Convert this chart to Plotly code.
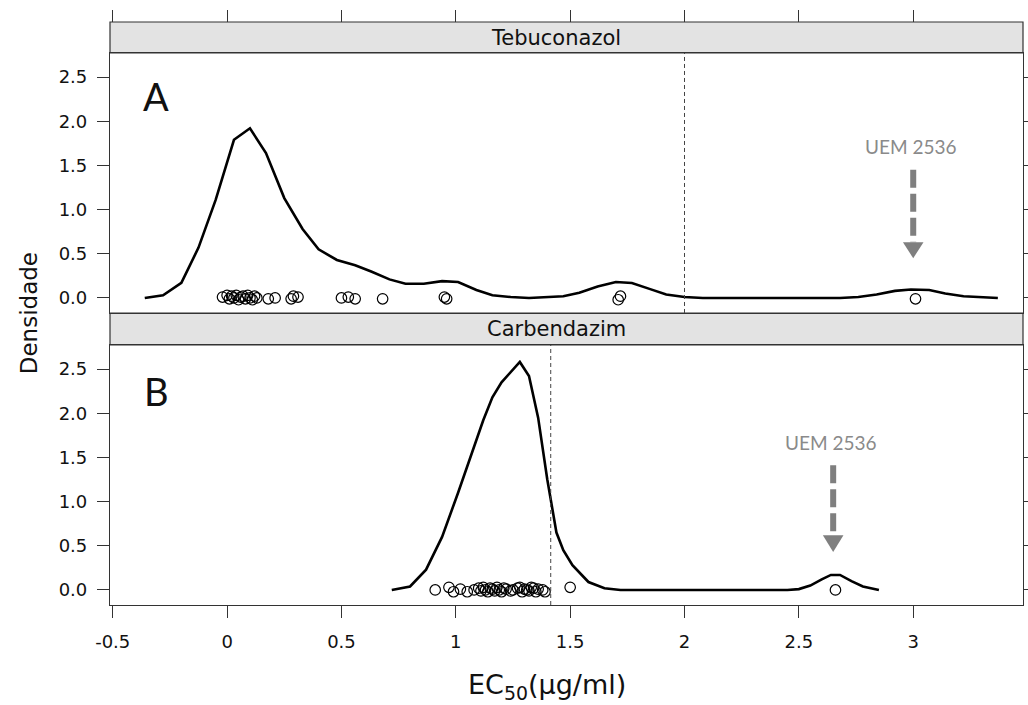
import plotly.graph_objects as go

# ---------------- data ----------------
teb_curve_x = [-0.36, -0.28, -0.20, -0.125, -0.05, 0.03, 0.10, 0.17, 0.25, 0.33, 0.40, 0.48,
               0.56, 0.63, 0.71, 0.78, 0.86, 0.94, 1.01, 1.09, 1.16, 1.24, 1.32, 1.39, 1.47,
               1.54, 1.62, 1.70, 1.77, 1.85, 1.92, 2.00, 2.08, 2.30, 2.50, 2.68, 2.76, 2.84,
               2.92, 2.99, 3.07, 3.14, 3.22, 3.30, 3.37]
teb_curve_y = [0.00, 0.03, 0.17, 0.57, 1.11, 1.79, 1.92, 1.64, 1.13, 0.78, 0.55, 0.43,
               0.37, 0.30, 0.21, 0.16, 0.16, 0.19, 0.18, 0.09, 0.03, 0.01, 0.00, 0.01, 0.02,
               0.06, 0.13, 0.18, 0.17, 0.10, 0.04, 0.01, 0.00, 0.00, 0.00, 0.00, 0.01, 0.04,
               0.08, 0.095, 0.09, 0.05, 0.02, 0.005, 0.00]

teb_pts_x = [-0.02, 0.00, 0.01, 0.02, 0.03, 0.04, 0.05, 0.06, 0.07, 0.08, 0.09, 0.10, 0.11,
             0.12, 0.13, 0.18, 0.21, 0.28, 0.29, 0.31, 0.50, 0.53, 0.56, 0.68, 0.95, 0.96,
             1.71, 1.72, 3.01]
teb_pts_y = [0.01, 0.03, -0.01, 0.02, 0.00, 0.03, -0.02, 0.01, 0.02, -0.01, 0.03, 0.00, -0.02,
             0.02, 0.00, -0.01, 0.00, -0.01, 0.02, 0.01, 0.00, 0.01, -0.01, -0.01, 0.01, -0.01,
             -0.02, 0.02, -0.01]

car_curve_x = [0.72, 0.80, 0.87, 0.94, 1.01, 1.07, 1.12, 1.16, 1.20, 1.28, 1.32, 1.36, 1.40,
               1.44, 1.47, 1.51, 1.58, 1.65, 1.72, 2.00, 2.45, 2.50, 2.55, 2.60, 2.64, 2.68,
               2.73, 2.78, 2.85]
car_curve_y = [0.00, 0.04, 0.23, 0.60, 1.10, 1.55, 1.92, 2.18, 2.35, 2.58, 2.42, 1.95, 1.25,
               0.65, 0.45, 0.28, 0.09, 0.02, 0.00, 0.00, 0.00, 0.01, 0.05, 0.12, 0.17, 0.17,
               0.10, 0.04, 0.00]

car_pts_x = [0.91, 0.97, 0.99, 1.02, 1.05, 1.08, 1.10, 1.11, 1.12, 1.13, 1.14, 1.15, 1.16,
             1.17, 1.18, 1.19, 1.20, 1.21, 1.22, 1.24, 1.25, 1.27, 1.28, 1.29, 1.30, 1.31,
             1.32, 1.33, 1.34, 1.35, 1.36, 1.38, 1.39, 1.50, 2.66]
car_pts_y = [0.00, 0.03, -0.02, 0.01, -0.02, 0.00, 0.02, -0.01, 0.03, 0.00, -0.02, 0.02, 0.01,
             -0.01, 0.03, 0.00, -0.02, 0.02, 0.01, -0.01, 0.00, 0.02, 0.03, -0.02, 0.01, 0.00,
             -0.01, 0.03, 0.02, -0.02, 0.01, 0.00, -0.02, 0.03, 0.00]

teb_ref = 2.0        # vertical dashed reference line, Tebuconazol
car_ref = 1.415      # vertical dashed reference line, Carbendazim
outlier_teb = 3.0    # UEM 2536
outlier_car = 2.65

x_tickvals = [-0.5, 0, 0.5, 1, 1.5, 2, 2.5, 3]
x_ticktext = ["-0.5", "0", "0.5", "1", "1.5", "2", "2.5", "3"]
y_tickvals = [0, 0.5, 1.0, 1.5, 2.0, 2.5]

# ---------------- layout geometry ----------------
H_PAPER = 583.0
top_dom = [0.5009, 0.9468]
bot_dom = [0.0, 0.4460]
xrange_ = [-0.512, 3.48]
yrange_ = [-0.17, 2.772]

fig = go.Figure()

line_style = dict(color="black", width=2.6)
mk = dict(symbol="circle-open", size=10.5, color="black", line=dict(width=1.2, color="black"))

fig.add_trace(go.Scatter(x=teb_curve_x, y=teb_curve_y, mode="lines", line=line_style,
                         xaxis="x", yaxis="y", showlegend=False, hoverinfo="skip"))
fig.add_trace(go.Scatter(x=teb_pts_x, y=teb_pts_y, mode="markers", marker=mk,
                         xaxis="x", yaxis="y", showlegend=False))
fig.add_trace(go.Scatter(x=car_curve_x, y=car_curve_y, mode="lines", line=line_style,
                         xaxis="x2", yaxis="y2", showlegend=False, hoverinfo="skip"))
fig.add_trace(go.Scatter(x=car_pts_x, y=car_pts_y, mode="markers", marker=mk,
                         xaxis="x2", yaxis="y2", showlegend=False))
# helper trace so top tick axis is drawn
fig.add_trace(go.Scatter(x=[None], y=[None], xaxis="x3", yaxis="y", showlegend=False,
                         hoverinfo="skip"))

FONT = "DejaVu Sans, Verdana, sans-serif"
tickfont = dict(family=FONT, size=18, color="#111")
frame_col = "#333333"

common_y = dict(range=yrange_, tickvals=y_tickvals, tickformat=".1f", ticks="outside",
                ticklen=12, tickwidth=1, tickcolor=frame_col, showline=True, linecolor=frame_col,
                linewidth=1.2, mirror="ticks", showgrid=False, zeroline=False, tickfont=tickfont,
                ticklabelstandoff=6, automargin=False)

fig.update_layout(
    width=1028, height=705,
    margin=dict(l=110, r=5, t=22, b=100),
    paper_bgcolor="white", plot_bgcolor="white",
    xaxis=dict(domain=[0, 1], anchor="y", range=xrange_, showticklabels=False, ticks="",
               showline=True, linecolor=frame_col, linewidth=1.2, mirror=True,
               showgrid=False, zeroline=False, automargin=False),
    yaxis=dict(domain=top_dom, anchor="x", **common_y),
    xaxis2=dict(domain=[0, 1], anchor="y2", range=xrange_, tickvals=x_tickvals,
                ticktext=x_ticktext, ticks="outside", ticklen=12, tickcolor=frame_col,
                showline=True, linecolor=frame_col, linewidth=1.2, mirror=True,
                showgrid=False, zeroline=False, tickfont=tickfont, ticklabelstandoff=8,
                automargin=False),
    yaxis2=dict(domain=bot_dom, anchor="x2", **common_y),
    xaxis3=dict(overlaying="x", matches="x", side="top", anchor="free", position=1.0,
                tickvals=x_tickvals, ticks="outside", ticklen=12, tickcolor=frame_col,
                showticklabels=False, showline=False, showgrid=False, zeroline=False,
                automargin=False),
)

shapes = []
# strips
for lo, hi in [(top_dom[1], 1.0), (bot_dom[1], top_dom[0])]:
    shapes.append(dict(type="rect", xref="paper", yref="paper", x0=0, x1=1, y0=lo, y1=hi,
                       fillcolor="#e3e3e3", line=dict(color=frame_col, width=1.2), layer="below"))
# reference lines
shapes.append(dict(type="line", xref="x", yref="y domain", x0=teb_ref, x1=teb_ref, y0=0, y1=1,
                   line=dict(color="#444", width=1, dash="4px,3px")))
shapes.append(dict(type="line", xref="x2", yref="y2 domain", x0=car_ref, x1=car_ref, y0=0, y1=1,
                   line=dict(color="#444", width=1, dash="4px,3px")))

arrow_col = "#7f7f7f"
annos = []
# arrows: (x ref, y ref, x, shaft top, shaft bottom, tip, text y)
for xr, yr, xa, s_top, s_bot, tip, ty in [("x", "y", outlier_teb, 1.45, 0.63, 0.45, 1.71),
                                          ("x2", "y2", outlier_car, 1.41, 0.62, 0.43, 1.67)]:
    shapes.append(dict(type="line", xref=xr, yref=yr, x0=xa, x1=xa, y0=s_top, y1=s_bot,
                       line=dict(color=arrow_col, width=6, dash="18px,6px")))
    hw = 0.045
    shapes.append(dict(type="path", xref=xr, yref=yr,
                       path=f"M {xa-hw},{s_bot} L {xa+hw},{s_bot} L {xa},{tip} Z",
                       fillcolor=arrow_col, line=dict(color=arrow_col, width=0)))
    annos.append(dict(xref=xr, yref=yr, x=xa - 0.01, y=ty, text="UEM 2536", showarrow=False,
                      font=dict(family="Lato, Open Sans, sans-serif", size=19, color="#8a8a8a")))

strip_font = dict(family=FONT, size=21, color="#111")
annos.append(dict(xref="paper", yref="paper", x=0.489, y=(top_dom[1] + 1.0) / 2, text="Tebuconazol",
                  showarrow=False, font=strip_font, yanchor="middle"))
annos.append(dict(xref="paper", yref="paper", x=0.489, y=(bot_dom[1] + top_dom[0]) / 2,
                  text="Carbendazim", showarrow=False, font=strip_font, yanchor="middle"))

panel_font = dict(family="Lato, Open Sans, sans-serif", size=38, color="#111")
annos.append(dict(xref="x", yref="y", x=-0.31, y=2.28, text="A", showarrow=False, font=panel_font))
annos.append(dict(xref="x2", yref="y2", x=-0.31, y=2.25, text="B", showarrow=False, font=panel_font))

annos.append(dict(xref="paper", yref="paper", x=-0.089, y=0.5, text="Densidade", textangle=-90,
                  showarrow=False, font=dict(family=FONT, size=23, color="#111"),
                  xanchor="center", yanchor="middle"))
annos.append(dict(xref="paper", yref="paper", x=0.479, y=-81 / H_PAPER,
                  text="EC<sub>50</sub>(µg/ml)", showarrow=False,
                  font=dict(family=FONT, size=27, color="#111"),
                  xanchor="center", yanchor="middle"))

fig.update_layout(shapes=shapes, annotations=annos)

fig.write_html("out.html")
